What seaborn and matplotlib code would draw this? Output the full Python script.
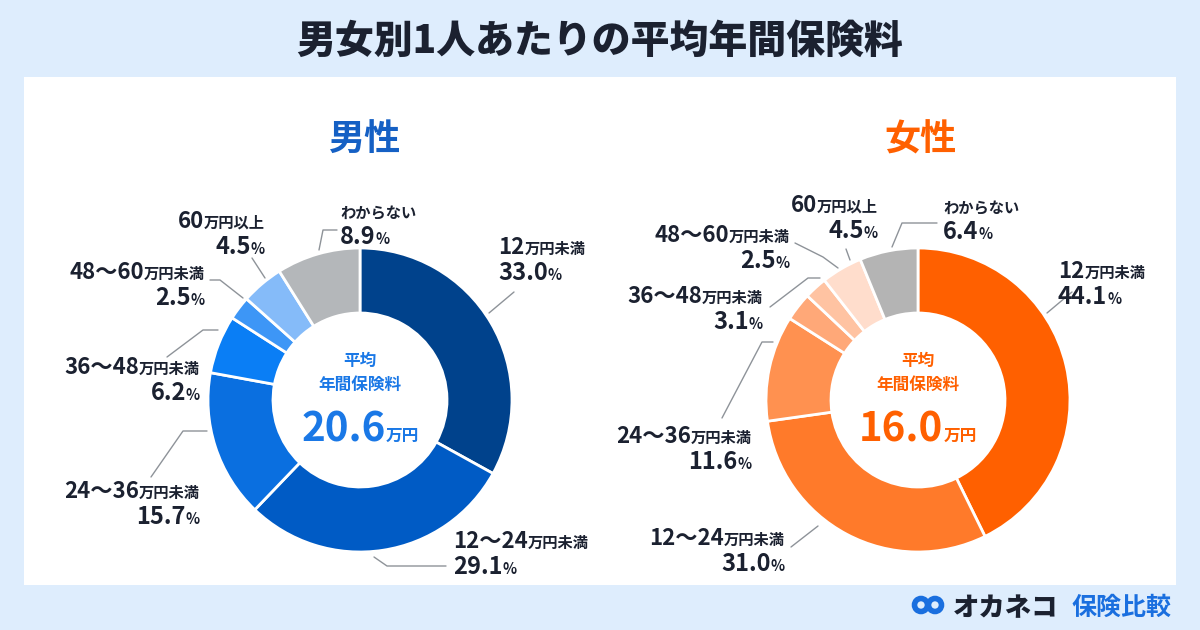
import re
import seaborn as sns
import matplotlib.pyplot as plt
from matplotlib.patches import Rectangle, Circle

# data
categories = ["12万円未満", "12〜24万円未満", "24〜36万円未満", "36〜48万円未満",
              "48〜60万円未満", "60万円以上", "わからない"]
male_pct = [33.0, 29.1, 15.7, 6.2, 2.5, 4.5, 8.9]
female_pct = [44.1, 31.0, 11.6, 3.1, 2.5, 4.5, 6.4]
male_avg = 20.6
female_avg = 16.0

male_colors = ["#00428c", "#005bc5", "#0a6fe0", "#0a7ef5", "#3d96f6", "#85bbf9", "#b4b7ba"]
female_colors = ["#ff6000", "#ff7a2a", "#ff9150", "#ffa878", "#ffc3a2", "#ffddcc", "#b4b4b4"]

INK = "#1b2130"
BLUE = "#1a6fdf"
ORANGE = "#ff6000"

sns.set_theme(style="white")
plt.rcParams["font.family"] = ["Noto Sans CJK JP", "DejaVu Sans"]

fig = plt.figure(figsize=(12, 6.3), dpi=100)
fig.patch.set_facecolor("#deedfd")
ax = fig.add_axes([0, 0, 1, 1])
ax.set_facecolor("#deedfd")

ax.add_patch(Rectangle((24, 77), 1152, 508, facecolor="white", edgecolor="none", zorder=0))


def donut(cx, values, colors):
    ax.pie(values, colors=colors, radius=152, center=(cx, 400), startangle=270,
           counterclock=True, wedgeprops=dict(width=65, edgecolor="white", linewidth=2))


donut(360, male_pct, male_colors)
donut(918, female_pct, female_colors)

ax.set_xlim(0, 1200)
ax.set_ylim(630, 0)
ax.set_aspect("auto")
ax.axis("off")

renderer = fig.canvas.get_renderer()


def rich(x, y, parts, ha="left", color=INK):
    arts = [ax.text(0, y, s, fontsize=fs, fontweight="bold", color=color, va="baseline")
            for s, fs in parts]
    widths = [a.get_window_extent(renderer).width for a in arts]
    total = sum(widths)
    x0 = {"left": x, "right": x - total, "center": x - total / 2}[ha]
    for a, w in zip(arts, widths):
        a.set_x(x0)
        x0 += w


def label(x, y, cat, pct, ha):
    m = re.match(r"[\d〜]*", cat)
    num, unit = m.group(0), cat[m.end():]
    parts = [(num, 16), (unit, 11)] if num else [(unit, 11)]
    rich(x, y, parts, ha)
    rich(x, y + 26, [(f"{pct:.1f}", 17), ("%", 10.5)], ha)


# label anchor positions (x, baseline y, align) and leader lines
male_pos = [(498, 254, "left"), (453, 548, "left"), (200, 498, "right"), (200, 374, "right"),
            (205, 279, "right"), (265, 228, "right"), (340, 218, "left")]
male_lines = [[(489, 313), (514, 292)],
              [(374, 557), (387, 566), (446, 566)],
              [(207, 431), (183, 431), (151, 477)],
              [(218, 330), (203, 330), (167, 357)],
              [(243, 298), (220, 280), (210, 280)],
              [(265, 278), (252, 258)],
              [(319, 250), (323, 230), (337, 230)]]

female_pos = [(1058, 278, "left"), (785, 545, "right"), (752, 443, "right"), (763, 303, "right"),
              (790, 242, "right"), (878, 212, "right"), (943, 213, "left")]
female_lines = [[(1047, 313), (1072, 292)],
                [(818, 526), (791, 547)],
                [(773, 342), (762, 342), (722, 418)],
                [(820, 278), (808, 278), (770, 307)],
                [(838, 268), (823, 257), (795, 243)],
                [(850, 260), (846, 249)],
                [(892, 247), (902, 223), (937, 223)]]

for pos, lines, vals in [(male_pos, male_lines, male_pct), (female_pos, female_lines, female_pct)]:
    for (x, y, ha), pts, cat, v in zip(pos, lines, categories, vals):
        label(x, y, cat, v, ha)
        xs, ys = zip(*pts)
        ax.plot(xs, ys, color="#8e9399", lw=1)

# centre text
for cx, avg, col in [(360, male_avg, "#1a78e6"), (918, female_avg, ORANGE)]:
    ax.text(cx, 366, "平均", ha="center", va="baseline", fontsize=12, fontweight="bold", color=col)
    ax.text(cx, 390, "年間保険料", ha="center", va="baseline", fontsize=12, fontweight="bold", color=col)
    rich(cx, 441, [(f"{avg:.1f}", 29), ("万円", 12)], "center", color=col)

# headings
ax.text(364, 151, "男性", ha="center", va="baseline", fontsize=26, fontweight="bold", color="#1560c4")
ax.text(920, 151, "女性", ha="center", va="baseline", fontsize=26, fontweight="bold", color=ORANGE)

# title
ax.text(600, 53, "男女別1人あたりの平均年間保険料", ha="center", va="baseline",
        fontsize=28, fontweight=900, color=INK)

# logo
for cx in (921, 935):
    ax.add_patch(Circle((cx, 605), 6.5, facecolor="none", edgecolor=BLUE, lw=4))
ax.text(953, 616, "オカネコ", fontsize=19, fontweight=900, color=INK, va="baseline")
ax.text(1071, 615, "保険比較", fontsize=18, fontweight="bold", color=BLUE, va="baseline")

fig.savefig("out.png", dpi=100, facecolor=fig.get_facecolor())
